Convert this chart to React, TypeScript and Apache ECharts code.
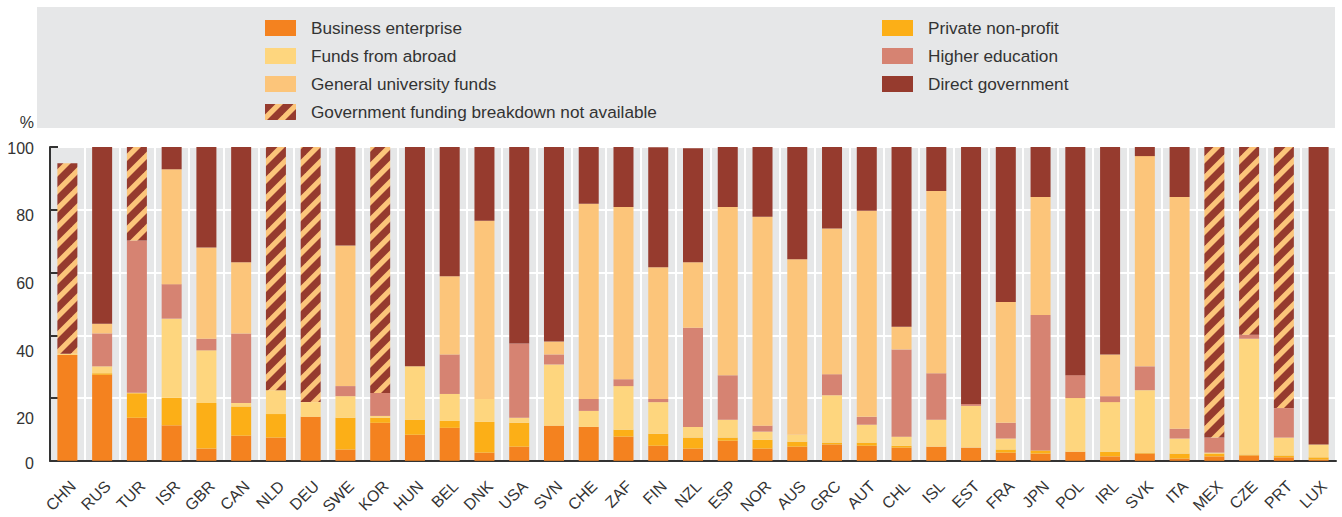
import React, { useEffect, useRef } from "react";
import * as echarts from "echarts";

const countries = ["CHN","RUS","TUR","ISR","GBR","CAN","NLD","DEU","SWE","KOR","HUN","BEL","DNK","USA","SVN","CHE","ZAF","FIN","NZL","ESP","NOR","AUS","GRC","AUT","CHL","ISL","EST","FRA","JPN","POL","IRL","SVK","ITA","MEX","CZE","PRT","LUX"];

const businessEnterprise = [33.7,27.4,13.7,11.3,3.9,8.0,7.4,14.0,3.6,12.1,8.3,10.5,2.6,4.5,11.2,10.8,7.7,4.8,3.9,6.4,3.9,4.5,5.2,4.8,4.2,4.5,4.2,2.6,2.3,2.9,1.4,2.3,0.7,1.4,1.7,1.1,0.4];
const privateNonProfit = [0,0.5,7.8,8.8,14.5,9.3,7.5,0,10.1,1.6,4.8,2.2,9.8,7.6,0,0,2.2,3.8,3.5,1.0,2.8,1.6,0.6,1.0,0.6,0,0,1.0,1.0,0,1.5,0.3,1.6,0.9,0.3,0.6,0.7];
const fundsFromAbroad = [0.4,2.2,0.2,25.2,16.8,1.1,7.6,4.7,6.9,0.6,17.0,8.6,7.3,1.6,19.5,5.1,13.9,10.1,3.4,5.7,2.6,2.2,15.1,5.7,2.9,8.6,13.3,3.5,0,17.1,15.8,19.9,4.8,0.3,36.9,5.7,4.1];
const higherEducation = [0,10.5,48.5,11.0,3.7,22.2,0,0,3.2,7.3,0,12.6,0,23.7,3.2,3.8,2.2,1.0,31.6,14.2,1.9,0,6.7,2.5,27.8,14.8,0.6,5.0,43.2,7.3,1.9,7.6,3.1,4.8,1.3,9.4,0];
const generalUniversityFunds = [0,3.1,0,36.6,29.1,22.7,0,0,44.8,0,0,24.9,56.8,0,4.1,62.2,54.9,42.0,20.9,53.6,66.6,55.9,46.4,65.7,7.2,58.1,0,38.5,37.6,0,13.3,67.0,73.9,0,0,0,0];
const directGovernment = [0,56.3,0,7.1,32.0,36.7,0,0,31.4,0,69.9,41.2,23.5,62.6,62.0,18.1,19.1,38.2,36.3,19.1,22.2,35.8,26.0,20.3,57.3,14.0,81.9,49.4,15.9,72.7,66.1,2.9,15.9,0,0,0,94.8];
const breakdownNotAvailable = [60.7,0,29.8,0,0,0,77.5,81.3,0,78.4,0,0,0,0,0,0,0,0,0,0,0,0,0,0,0,0,0,0,0,0,0,0,0,92.6,59.8,83.2,0];

const yTickOffsets: Record<string, number> = { "0": 3, "20": 20, "40": 16, "60": 11, "80": 6, "100": 1 };

const FONT = "'Liberation Sans', Arial, sans-serif";
const TEXT = "#333333";

function hatchUrl(): string {
  const s = 18;
  const b = 10.5;
  const svg =
    `<svg xmlns='http://www.w3.org/2000/svg' width='${s}' height='${s}'>` +
    `<rect width='${s}' height='${s}' fill='#FCC57A'/>` +
    `<polygon points='0,0 ${b},0 0,${b}' fill='#963B2E'/>` +
    `<polygon points='${s},0 ${s},${b} ${b},${s} 0,${s}' fill='#963B2E'/>` +
    `</svg>`;
  return "data:image/svg+xml;base64," + btoa(svg);
}

export default function App() {
  const ref = useRef<HTMLDivElement>(null);
  useEffect(() => {
    if (!ref.current) return;
    const chart = echarts.init(ref.current, null, { renderer: "svg" });
    const hatch = { image: hatchUrl(), repeat: "repeat", imageWidth: 18, imageHeight: 18 };

    const mk = (name: string, data: number[], color: any) => ({
      name,
      type: "bar",
      stack: "total",
      barWidth: 20,
      data,
      itemStyle: { color },
      emphasis: { disabled: true },
    });

    const rich: Record<string, any> = {};
    Object.keys(yTickOffsets).forEach((k) => {
      rich["y" + k] = {
        fontSize: 16,
        fontFamily: FONT,
        color: TEXT,
        padding: [yTickOffsets[k] * 2, 0, 0, 0],
      };
    });

    const legendCommon = {
      orient: "vertical",
      top: 19.5,
      padding: 0,
      itemWidth: 31,
      itemHeight: 16,
      itemGap: 11,
      icon: "rect",
      selectedMode: false,
      textStyle: { fontSize: 17.2, color: TEXT, fontFamily: FONT, padding: [0, 0, 0, 10] },
    };

    chart.setOption({
      animation: false,
      textStyle: { fontFamily: FONT },
      graphic: [
        {
          type: "rect",
          z: -10,
          shape: { x: 37, y: 7, width: 1298, height: 121 },
          style: { fill: "#E6E7E8" },
        },
      ],
      legend: [
        {
          ...legendCommon,
          left: 265,
          data: ["Business enterprise", "Funds from abroad", "General university funds", "Government funding breakdown not available"],
        },
        {
          ...legendCommon,
          left: 882,
          data: ["Private non-profit", "Higher education", "Direct government"],
        },
      ],
      grid: {
        left: 50,
        right: 6,
        top: 147,
        bottom: 53.5,
        show: true,
        backgroundColor: "#E6E7E8",
        borderWidth: 0,
      },
      xAxis: {
        type: "category",
        data: countries,
        axisLine: { lineStyle: { color: TEXT, width: 2 } },
        axisTick: { inside: true, length: 7, interval: 0, lineStyle: { color: TEXT, width: 1.5 } },
        axisLabel: {
          interval: 0,
          rotate: 45,
          fontSize: 16,
          color: TEXT,
          fontFamily: FONT,
          margin: 17,
          verticalAlign: "top",
        },
        splitLine: { show: true, interval: 0, lineStyle: { color: "#FFFFFF", width: 2 } },
      },
      yAxis: {
        type: "value",
        min: 0,
        max: 100,
        interval: 20,
        name: "%",
        nameLocation: "end",
        nameGap: 25,
        nameTextStyle: { fontSize: 16, color: TEXT, fontFamily: FONT, align: "right", verticalAlign: "middle", padding: [0, 16, 0, 0] },
        axisLine: { show: true, lineStyle: { color: TEXT, width: 2 } },
        axisTick: { show: true, inside: true, length: 8, lineStyle: { color: TEXT, width: 2 } },
        axisLabel: {
          margin: 16,
          fontSize: 16,
          color: TEXT,
          fontFamily: FONT,
          formatter: (v: number) => `{y${v}|${v}}`,
          rich,
        },
        splitLine: { show: true, lineStyle: { color: "#FFFFFF", width: 2 } },
      },
      series: [
        mk("Business enterprise", businessEnterprise, "#F4821F"),
        mk("Private non-profit", privateNonProfit, "#FCAF17"),
        mk("Funds from abroad", fundsFromAbroad, "#FED67E"),
        mk("Higher education", higherEducation, "#D68372"),
        mk("General university funds", generalUniversityFunds, "#FCC57A"),
        mk("Direct government", directGovernment, "#963B2E"),
        mk("Government funding breakdown not available", breakdownNotAvailable, hatch),
      ],
    });
    return () => chart.dispose();
  }, []);

  return (
    <div
      ref={ref}
      style={{ position: "fixed", left: 0, top: 0, width: 1342, height: 517, background: "#FFFFFF" }}
    />
  );
}
